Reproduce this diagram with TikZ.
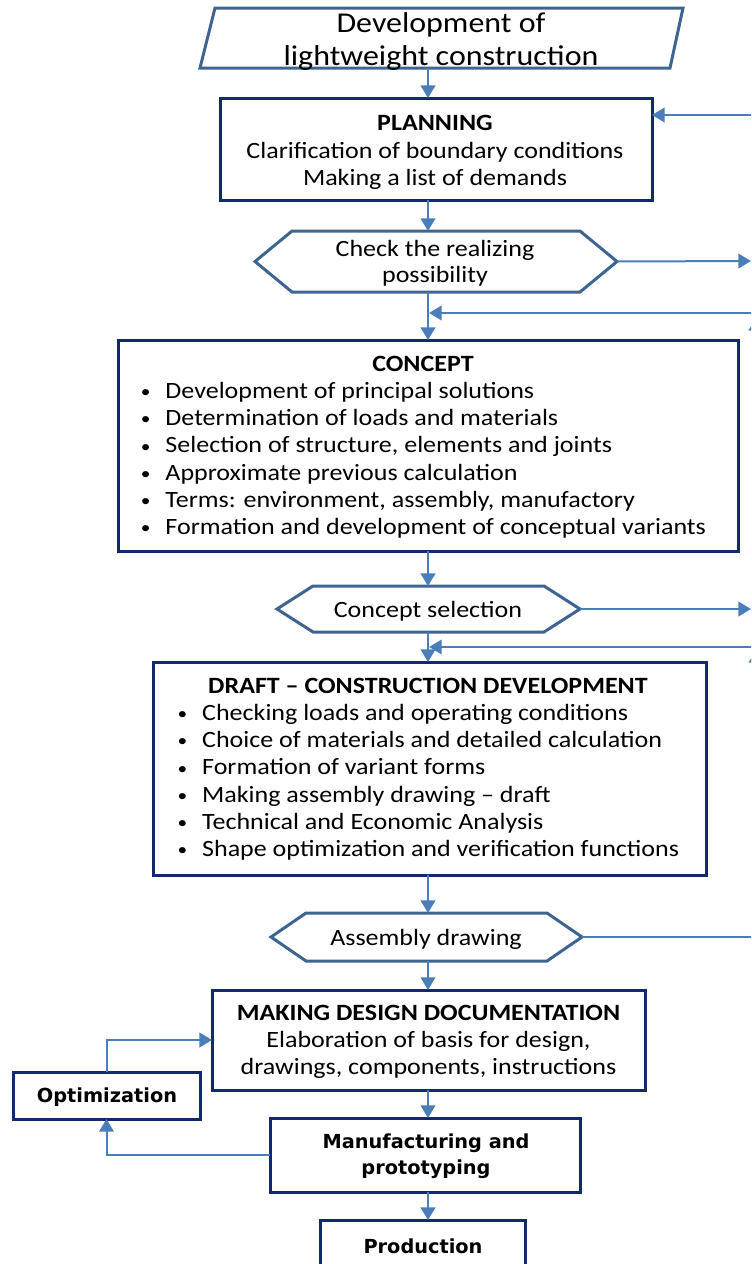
\documentclass[tikz,border=0pt]{standalone}
\usepackage{fontspec}
\setmainfont{Carlito}[FakeStretch=1.115]
\newfontfamily\dvs{DejaVu Sans}
\usetikzlibrary{arrows.meta,calc}
\definecolor{navy}{HTML}{12296B}
\definecolor{hexc}{HTML}{3E6490}
\definecolor{conn}{HTML}{4A7EBB}
\newcommand\bodyfont{\fontsize{17.5}{20.4}\selectfont}
\newcommand\bl{\makebox[19pt][l]{\hspace{0.5pt}\raisebox{0.6pt}{\fontsize{13}{13}\selectfont\textbullet}}}
\begin{document}
\begin{tikzpicture}[x=0.75pt,y=-0.75pt,
  box/.style={draw=navy, line width=2.25pt, inner sep=0pt, outer sep=0pt},
  sfont/.style={font=\dvs\bfseries\fontsize{14.5}{19.5}\selectfont},
  txt/.style={inner sep=0pt, outer sep=0pt, align=center, font=\bodyfont},
  frame/.style={inner sep=0pt, outer sep=0pt},
  hexb/.style={draw=hexc, line width=2.25pt, line join=miter},
  arr/.style={draw=conn, line width=1.5pt, -{Triangle[length=9.5pt,width=11pt]}},
  ln/.style={draw=conn, line width=1.5pt}]
\useasboundingbox (0,0) rectangle (751,1264);
\clip (0,0) rectangle (751,1264);
\coordinate (ax) at (428,0);

% start parallelogram
\node[frame, minimum width=362.25pt, minimum height=45pt] (start) at (441.5,38) {};
\draw[hexb] ($(start.north west)+(15,0)$) -- (start.north east) -- ($(start.south east)+(-13,0)$) -- (start.south west) -- cycle;
\node[txt, font=\fontsize{21.5}{25.2}\selectfont] (start-t) at (441,41.5) {Development of\\lightweight construction};

% planning
\node[box, minimum width=324pt, minimum height=76.5pt] (plan) at (436,149) {};
\node[txt] (plan-t) at (435,152.5) {\textbf{PLANNING}\\Clarification of boundary conditions\\Making a list of demands};

% hex 1
\node[frame, minimum width=271.5pt, minimum height=45.75pt] (h1) at (436,261.5) {};
\draw[hexb] (h1.west) -- ($(h1.north west)+(37,0)$) -- ($(h1.north east)+(-37,0)$) -- (h1.east) -- ($(h1.south east)+(-37,0)$) -- ($(h1.south west)+(37,0)$) -- cycle;
\node[txt, font=\fontsize{17.5}{19.5}\selectfont] (h1-t) at (435,263.5) {Check the realizing\\possibility};

% concept
\node[box, minimum width=465pt, minimum height=158.25pt] (concept) at (428,445.5) {};
\node[txt] (concept-t) at (423,447.5)
  {\begin{tabular}{@{}l@{}}
   \multicolumn{1}{@{}c@{}}{\textbf{CONCEPT}}\\
   \bl Development of principal solutions\\
   \bl Determination of loads and materials\\
   \bl Selection of structure, elements and joints\\
   \bl Approximate previous calculation\\
   \bl Terms: environment, assembly, manufactory\\
   \bl Formation and development of conceptual variants
   \end{tabular}};

% hex 2
\node[frame, minimum width=227.25pt, minimum height=34.5pt] (h2) at (428.5,609) {};
\draw[hexb] (h2.west) -- ($(h2.north west)+(36,0)$) -- ($(h2.north east)+(-36,0)$) -- (h2.east) -- ($(h2.south east)+(-36,0)$) -- ($(h2.south west)+(36,0)$) -- cycle;
\node[txt, font=\fontsize{17.5}{19.5}\selectfont] (h2-t) at (428,611) {Concept selection};

% draft
\node[box, minimum width=414.75pt, minimum height=159.75pt] (draft) at (429.5,768.5) {};
\node[txt] (draft-t) at (428,769.5)
  {\begin{tabular}{@{}l@{}}
   \multicolumn{1}{@{}c@{}}{\textbf{DRAFT -- CONSTRUCTION DEVELOPMENT}}\\
   \bl Checking loads and operating conditions\\
   \bl Choice of materials and detailed calculation\\
   \bl Formation of variant forms\\
   \bl Making assembly drawing -- draft\\
   \bl Technical and Economic Analysis\\
   \bl Shape optimization and verification functions
   \end{tabular}};

% hex 3
\node[frame, minimum width=233.25pt, minimum height=36pt] (h3) at (426.5,937) {};
\draw[hexb] (h3.west) -- ($(h3.north west)+(35,0)$) -- ($(h3.north east)+(-35,0)$) -- (h3.east) -- ($(h3.south east)+(-35,0)$) -- ($(h3.south west)+(35,0)$) -- cycle;
\node[txt, font=\fontsize{17.5}{19.5}\selectfont] (h3-t) at (426,939) {Assembly drawing};

% documentation
\node[box, minimum width=324.75pt, minimum height=75pt] (doc) at (428.5,1040) {};
\node[txt] (doc-t) at (428.5,1042) {\textbf{MAKING DESIGN DOCUMENTATION}\\Elaboration of basis for design,\\drawings, components, instructions};

% manufacturing
\node[box, minimum width=232.5pt, minimum height=55.5pt] (manuf) at (425,1155) {};
\node[txt, sfont] (manuf-t) at (426,1156) {Manufacturing and\\prototyping};

% production
\node[box, minimum width=153.75pt, minimum height=37.5pt] (prod) at (423,1245) {};
\node[txt, sfont] (prod-t) at (423,1246) {Production};

% optimization
\node[box, minimum width=140.25pt, minimum height=35.25pt] (opt) at (106.5,1095.5) {};
\node[txt, sfont] (opt-t) at (107,1097) {Optimization};

% right edge coordinates
\coordinate (r0) at (751,115);
\coordinate (e1) at (751,261);
\coordinate (r1) at (751,313);
\coordinate (u1a) at (756,380);
\coordinate (u1b) at (756,318);
\coordinate (e2) at (751,609);
\coordinate (r2) at (751,647);
\coordinate (u2a) at (756,720);
\coordinate (u2b) at (756,650);
\coordinate (e3) at (751,937);

% main chain
\draw[arr] (start.south -| ax) -- (plan.north -| ax);
\draw[arr] (plan.south -| ax) -- (h1.north -| ax);
\draw[arr] (h1.south -| ax) -- (concept.north -| ax);
\draw[arr] (concept.south -| ax) -- (h2.north -| ax);
\draw[arr] (h2.south -| ax) -- (draft.north -| ax);
\draw[arr] (draft.south -| ax) -- (h3.north -| ax);
\draw[arr] (h3.south -| ax) -- (doc.north -| ax);
\draw[arr] (doc.south -| ax) -- (manuf.north -| ax);
\draw[arr] (manuf.south -| ax) -- (prod.north -| ax);

% side connectors
\draw[arr] (r0) -- (plan.east |- r0);
\draw[arr] (h1.east) -- (e1);
\draw[arr, shorten >=0.8pt] (r1) -- (ax |- r1);
\draw[arr] (u1a) -- (u1b);
\draw[arr] (h2.east) -- (e2);
\draw[arr, shorten >=0.8pt] (r2) -- (ax |- r2);
\draw[arr] (u2a) -- (u2b);
\draw[ln] (h3.east) -- (e3);

% optimization loop
\draw[arr] (opt.north) |- (doc.west);
\draw[arr] (manuf.west) -| (opt.south);
\end{tikzpicture}
\end{document}
